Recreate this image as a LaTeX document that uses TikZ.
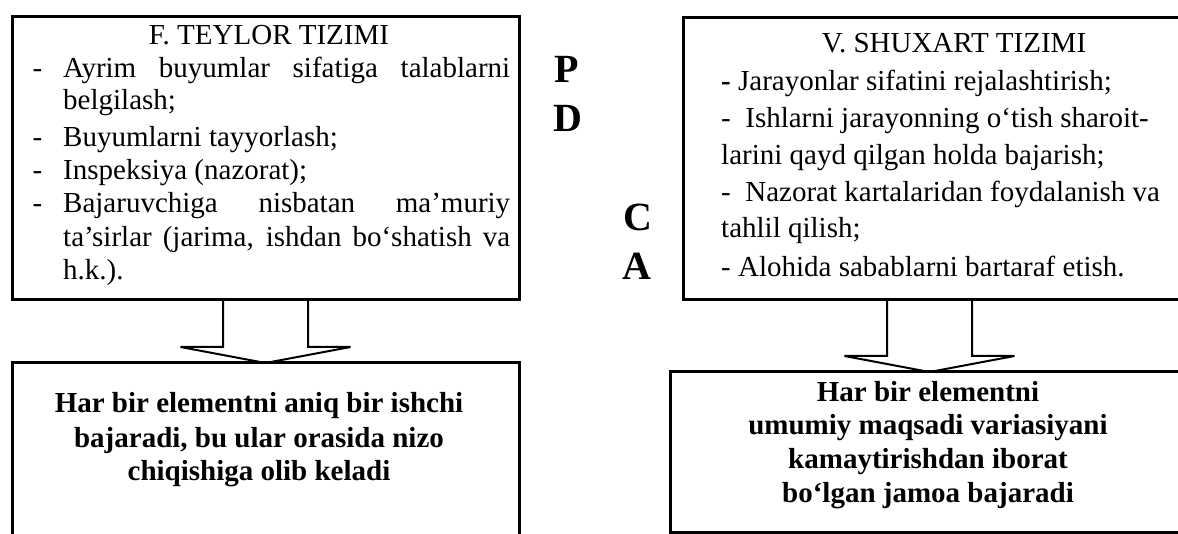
\documentclass[tikz,border=0pt]{standalone}
\usepackage{fontspec}
\setmainfont{Liberation Serif}
\usetikzlibrary{calc}

% hollow arrow on axis #3, from the bottom edge of box #1 down onto the top of box #2
\newcommand{\blockdown}[3]{%
  \draw[arr] ($(#3 |- #1.south)+(-42.5,0)$) |- ($(#3 |- #2.north)+(-85,-16)$)
    -- (#3 |- #2.north) -- ($(#3 |- #2.north)+(85,-16)$) -| ($(#3 |- #1.south)+(42.5,0)$);}

\begin{document}
\begin{tikzpicture}[x=1pt,y=-1pt,
  box/.style={draw,line width=3pt,outer sep=0pt,inner sep=0pt,anchor=north west},
  arr/.style={line width=2pt},
  txt/.style={inner sep=0pt,anchor=base west,font=\fontsize{29}{33}\selectfont},
  ttl/.style={inner sep=0pt,anchor=base,font=\fontsize{29}{33}\selectfont},
  btxt/.style={inner sep=0pt,anchor=base,font=\fontsize{29}{33}\selectfont\bfseries},
  letter/.style={inner sep=0pt,anchor=base,font=\fontsize{40}{40}\selectfont\bfseries}]
\useasboundingbox (0,0) rectangle (1178,534);

% Taylor box
\node[box,minimum width=507pt,minimum height=283pt] (teylor) at (12,17) {};
\node[ttl] (teylorttl) at (269,45) {F. TEYLOR TIZIMI};
\foreach \y [count=\i] in {78,147,180,213}
  \node[txt] (dl\i) at (32.5,\y) {-};
\foreach \y/\s [count=\i] in {78/{\makebox[447pt][s]{Ayrim buyumlar sifatiga talablarni}},
    110/{belgilash;}, 147/{Buyumlarni tayyorlash;}, 180/{Inspeksiya (nazorat);},
    213/{\makebox[447pt][s]{Bajaruvchiga nisbatan ma’muriy}},
    247/{\makebox[447pt][s]{ta’sirlar (jarima, ishdan bo‘shatish va}}, 280/{h.k.).}}
  \node[txt] (tl\i) at (63,\y) {\s};

% Shewhart box (runs off the right edge)
\node[box,minimum width=540pt,minimum height=282pt] (shuxart) at (683,18) {};
\node[ttl] (shuxartttl) at (954,53) {V. SHUXART TIZIMI};
\foreach \y/\s [count=\i] in {91/{\textbf{-} Jarayonlar sifatini rejalashtirish;},
    128/{-\ \ Ishlarni jarayonning o‘tish sharoit-},
    165/{larini qayd qilgan holda bajarish;},
    202/{-\ \ Nazorat kartalaridan foydalanish va},
    238/{tahlil qilish;}, 277/{- Alohida sabablarni bartaraf etish.}}
  \node[txt] (sl\i) at (721,\y) {\s};

% PDCA letters between the boxes
\node[letter] (lp) at (567,83) {P};
\node[letter] (ld) at (568,132) {D};
\node[letter] (lc) at (637.5,231) {C};
\node[letter] (la) at (637,280) {A};

% result boxes
\node[box,minimum width=507pt,minimum height=220pt] (teylorres) at (12,363) {};
\foreach \y/\s [count=\i] in {413/{Har bir elementni aniq bir ishchi},
    447/{bajaradi, bu ular orasida nizo}, 480/{chiqishiga olib keladi}}
  \node[btxt] (tr\i) at (259,\y) {\s};

\node[box,minimum width=560pt,minimum height=160pt] (shuxartres) at (670,372) {};
\foreach \y/\s [count=\i] in {402/{Har bir elementni}, 435/{umumiy maqsadi variasiyani},
    468/{kamaytirishdan iborat}, 502/{bo‘lgan jamoa bajaradi}}
  \node[btxt] (sr\i) at (928,\y) {\s};

% arrows
\coordinate (axl) at (265.5,0);
\coordinate (axr) at (929.5,0);
\blockdown{teylor}{teylorres}{axl}
\blockdown{shuxart}{shuxartres}{axr}
\end{tikzpicture}
\end{document}
